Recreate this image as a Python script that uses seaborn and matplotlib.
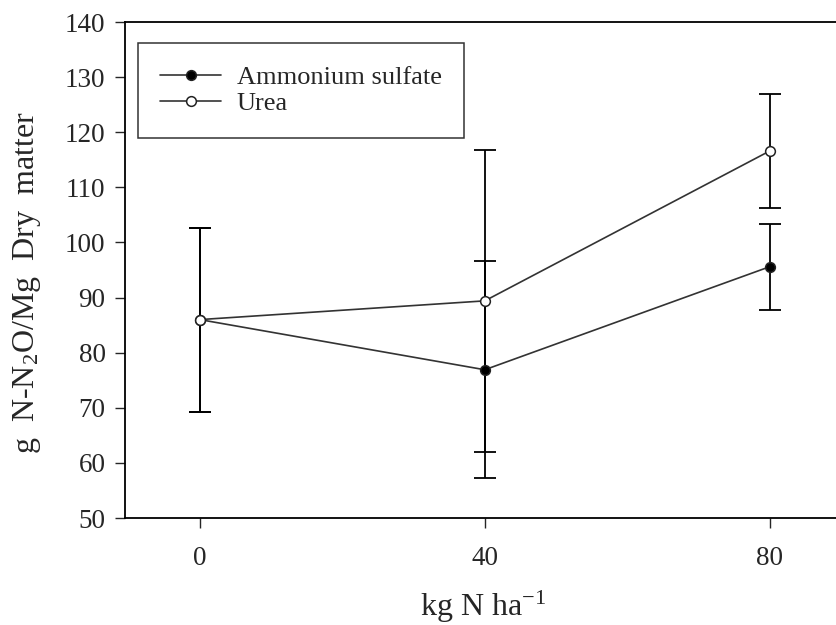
import numpy as np
import pandas as pd
import matplotlib
matplotlib.use('Agg')
import matplotlib.pyplot as plt
import seaborn as sns

# N rate (kg N/ha) and N2O emission per Mg dry matter, with error bars
n_rate = [0, 40, 80]
ammonium_sulfate = [86.0, 76.9, 95.6]
ammonium_sulfate_err = [16.7, 19.7, 7.8]
urea = [86.0, 89.4, 116.6]
urea_err = [16.7, 27.4, 10.3]

sns.set_style('ticks')
plt.rcParams['font.family'] = ['Liberation Serif', 'DejaVu Serif']
plt.rcParams['mathtext.fontset'] = 'custom'
plt.rcParams['mathtext.rm'] = 'Liberation Serif'
plt.rcParams['mathtext.it'] = 'Liberation Serif'

as_df = pd.DataFrame({'N': n_rate, 'value': ammonium_sulfate})
urea_df = pd.DataFrame({'N': n_rate, 'value': urea})

fig = plt.figure(figsize=(8.36, 6.25), dpi=100)
# right spine sits just off the picture, as in the original
ax = fig.add_axes([125 / 836, 1 - 518 / 625, 716 / 836, 496 / 625])

# error bars first, markers drawn over them
ax.errorbar(n_rate, ammonium_sulfate, yerr=ammonium_sulfate_err, fmt='none',
            ecolor='black', elinewidth=1.3, capsize=8, capthick=1.3, zorder=2)
ax.errorbar(n_rate, urea, yerr=urea_err, fmt='none',
            ecolor='black', elinewidth=1.3, capsize=8, capthick=1.3, zorder=2)

sns.lineplot(data=as_df, x='N', y='value', color='#333333', linewidth=1.2,
             marker='o', markersize=7, markerfacecolor='black',
             markeredgecolor='#222222', markeredgewidth=1.1,
             label='Ammonium sulfate', ax=ax, zorder=3)
sns.lineplot(data=urea_df, x='N', y='value', color='#333333', linewidth=1.2,
             marker='o', markersize=7, markerfacecolor='white',
             markeredgecolor='#222222', markeredgewidth=1.1,
             label='Urea', ax=ax, zorder=4)

ax.set_xlim(-10.5, 90)
ax.set_ylim(50, 140)
ax.set_xticks(n_rate)
ax.set_yticks(np.arange(50, 141, 10))
ax.tick_params(direction='out', length=7, width=1, labelsize=19.5, pad=7)
ax.tick_params(axis='x', pad=13)
for s in ax.spines.values():
    s.set_visible(True)
    s.set_linewidth(1.3)
    s.set_color('black')

ax.set_xlabel(r'kg N ha$^{\mathregular{-1}}$', fontsize=23)
ax.xaxis.set_label_coords(0.5, -0.142)
ax.set_ylabel(r'g  N-N$_{\mathregular{2}}$O/Mg  Dry  matter', fontsize=23)
ax.yaxis.set_label_coords(-0.114, 0.474)

leg = ax.legend(loc='upper left', bbox_to_anchor=(0.018, 0.957),
                fontsize=19, frameon=True, fancybox=False, edgecolor='black',
                handlelength=2.3, borderpad=0.85, labelspacing=0.1,
                handletextpad=0.6, borderaxespad=0)
leg.get_frame().set_linewidth(1.1)

fig.savefig('out.png', dpi=100)
